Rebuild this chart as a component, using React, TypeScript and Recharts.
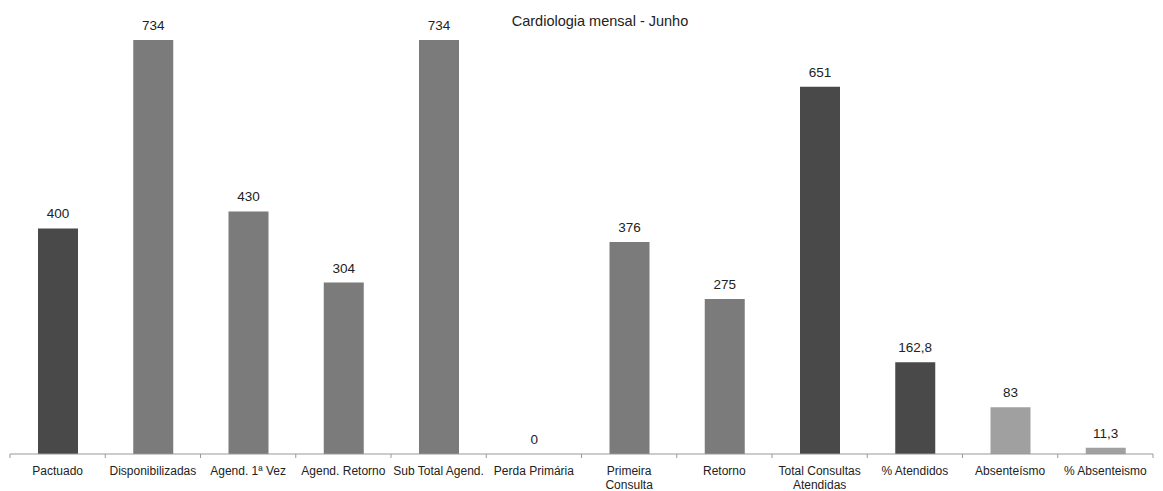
import { BarChart, Bar, XAxis, YAxis, Cell, LabelList } from 'recharts'

// categories and values
const categories = [
  'Pactuado',
  'Disponibilizadas',
  'Agend. 1ª Vez',
  'Agend. Retorno',
  'Sub Total Agend.',
  'Perda Primária',
  'Primeira\nConsulta',
  'Retorno',
  'Total Consultas\nAtendidas',
  '% Atendidos',
  'Absenteísmo',
  '% Absenteismo',
]
const values = [400, 734, 430, 304, 734, 0, 376, 275, 651, 162.8, 83, 11.3]
const shades = ['dark', 'mid', 'mid', 'mid', 'mid', 'mid', 'mid', 'mid', 'dark', 'dark', 'light', 'light']

const title = 'Cardiologia mensal  - Junho'

const COLORS: Record<string, string> = { dark: '#494949', mid: '#7b7b7b', light: '#a0a0a0' }
const FONT = '"Liberation Sans", Arial, sans-serif'

const W = 1163
const H = 491
const MARGIN = { top: 40, right: 10, bottom: 7, left: 10 }
const band = (W - MARGIN.left - MARGIN.right) / categories.length

const data = categories.map((name, i) => ({ name, value: values[i], shade: shades[i] }))

function CategoryTick(props: any) {
  const { x, y, payload, index } = props
  const lines = String(payload.value).split('\n')
  const left = x - band / 2
  const axisY = y - 8
  return (
    <g>
      <line x1={left} x2={left} y1={axisY} y2={axisY + 4} stroke="#999" />
      {index === categories.length - 1 && (
        <line x1={left + band} x2={left + band} y1={axisY} y2={axisY + 4} stroke="#999" />
      )}
      <text x={x} y={axisY + 21} textAnchor="middle" fontSize={12} fontFamily={FONT} fill="#222">
        {lines.map((l, i) => (
          <tspan key={i} x={x} dy={i === 0 ? 0 : 14}>
            {l}
          </tspan>
        ))}
      </text>
    </g>
  )
}

export default function App() {
  return (
    <div style={{ position: 'absolute', left: 0, top: 0, width: W, height: H, background: '#fff' }}>
      <BarChart width={W} height={H} data={data} margin={MARGIN}>
        <text x={600} y={26} textAnchor="middle" fontSize={14.5} fontFamily={FONT} fill="#222">
          {title}
        </text>
        <XAxis
          dataKey="name"
          interval={0}
          tickLine={false}
          axisLine={{ stroke: '#999' }}
          tick={<CategoryTick />}
        />
        <YAxis hide domain={[0, 734]} />
        <Bar
          dataKey="value"
          barSize={40}
          minPointSize={(v: any) => (v === 0 ? 0.01 : 0)}
          isAnimationActive={false}
        >
          {data.map((d, i) => (
            <Cell key={i} fill={COLORS[d.shade]} />
          ))}
          <LabelList
            dataKey="value"
            position="top"
            offset={10}
            formatter={(v: any) => String(v).replace('.', ',')}
            style={{ fontSize: 13.5, fontFamily: FONT, fill: '#222' }}
          />
        </Bar>
      </BarChart>
    </div>
  )
}
